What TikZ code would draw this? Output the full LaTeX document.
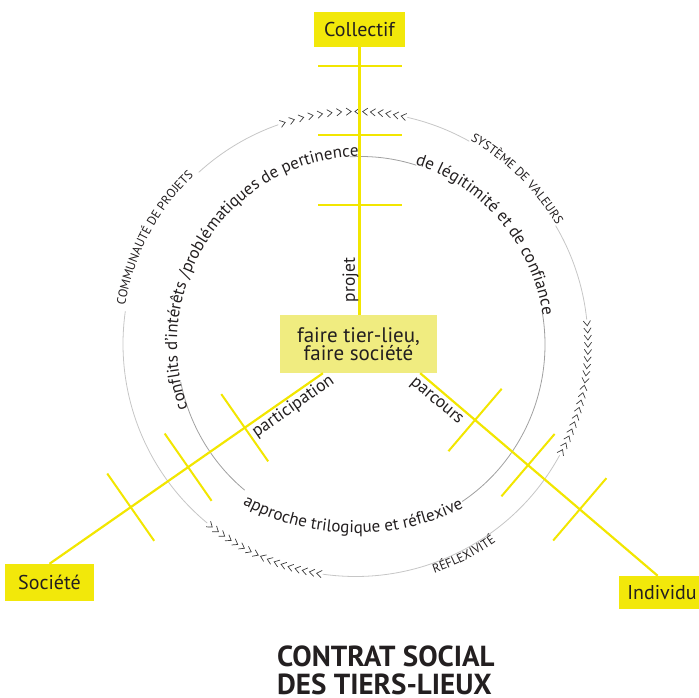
\documentclass[tikz,border=0pt]{standalone}
\usepackage{fontspec}
\setmainfont{PT Sans}
\usetikzlibrary{calc,decorations.text}
\definecolor{ylw}{RGB}{242,230,0}
\definecolor{ylwbox}{RGB}{242,232,10}
\definecolor{pale}{RGB}{240,236,128}
\definecolor{txt}{RGB}{35,31,32}
\definecolor{cinner}{RGB}{160,160,160}
\definecolor{couter}{RGB}{198,198,198}
\definecolor{chevc}{RGB}{60,60,60}
\newcommand\Rc{232.5}
\newcommand\chevgroup[5]{%
  \foreach \k in {1,...,#4}{%
    \pgfmathsetmacro\ang{#1-(\k-0.5)*(#1-#2)/#4}%
    \draw[chev, shift={(Co)}, rotate=\ang] (\Rc-3.6,2.5) -- (\Rc,-2.5) -- (\Rc+3.6,2.5);}%
  \foreach \k in {1,...,#5}{%
    \pgfmathsetmacro\ang{#2-(\k-0.5)*(#2-#3)/#5}%
    \draw[chev, shift={(Co)}, rotate=\ang] (\Rc-3.6,-2.5) -- (\Rc,2.5) -- (\Rc+3.6,-2.5);}}
\newcommand\spoketick[4]{%
  \path ($(#1)!#3!(#2)$) coordinate (tp);
  \draw[tick] ($(tp)!#4!90:(#2)$) -- ($(tp)!#4!-90:(#2)$);}
\begin{document}
\begin{tikzpicture}[x=1pt,y=1pt,
 spoke/.style={ylw, line width=2.2pt},
 tick/.style={ylw, line width=2pt},
 pole/.style={fill=ylwbox, text=txt, inner sep=0pt, font=\fontsize{20}{24}\selectfont},
 hubbox/.style={fill=pale, text=txt, inner sep=0pt, align=center, font=\fontsize{21}{18.5}\selectfont},
 lbl/.style={text=txt, inner sep=0pt, font=\fontsize{17.5}{20}\selectfont},
 title/.style={text=txt, inner sep=0pt, anchor=base west, font=\bfseries\fontsize{29}{30}\selectfont},
 outc/.style={couter, line width=0.8pt},
 innc/.style={cinner, line width=0.8pt},
 chev/.style={chevc, line width=0.7pt},
]
\useasboundingbox (0,0) rectangle (699,697);
\coordinate (Co) at (355.5,353);
\coordinate (Ci) at (361,352.5);
\coordinate (Ct) at (356,405.5);

% circles (broken where texts sit)
\foreach \a/\b in {109.4/132.4, 60.7/77.1, 6/30.6, -98.1/-28.6, -188.1/-129.6}
  \draw[outc] ($(Co)+(\a:\Rc)$) arc[start angle=\a, end angle=\b, radius=\Rc];
\foreach \a/\b in {72.5/93.5, -56.6/9.5, 191.6/230.8}
  \draw[innc] ($(Ci)+(\a:184 and 188)$) arc[start angle=\a, end angle=\b, x radius=184, y radius=188];

% chevrons
\chevgroup{109.4}{90.5}{77.1}{8}{7}
\chevgroup{6}{-9.9}{-28.6}{9}{10}
\chevgroup{-98.1}{-114.4}{-129.6}{9}{8}

% curved texts, inner ring
\path[decorate, decoration={text along path, text align=center, text color=txt,
  text={|\fontsize{17}{20}\selectfont|conflits d’intérêts /problématiques de pertinence}}]
  ($(Ci)+(205.2:184 and 188)$) arc[start angle=205.2, end angle=85.2, x radius=184, y radius=188];
\path[decorate, decoration={text along path, text align=center, text color=txt,
  text={|\fontsize{17}{20}\selectfont|de légitimité et de confiance}}]
  ($(Ci)+(91:184 and 188)$) arc[start angle=91, end angle=-9, x radius=184, y radius=188];
\path[decorate, decoration={text along path, text align=center, text color=txt,
  text={|\fontsize{17}{20}\selectfont|approche trilogique et réflexive}}]
  ($(Ct)+(-135.75:241.5)$) arc[start angle=-135.75, end angle=-45.75, radius=241.5];

% curved texts, outer ring
\path[decorate, decoration={text along path, text align=center, text color=txt,
  text={|\fontsize{12.5}{15}\selectfont|COMMUNAUTÉ DE PROJETS}}]
  ($(Co)+(197.2:233.5)$) arc[start angle=197.2, end angle=107.2, radius=233.5];
\path[decorate, decoration={text along path, text align=center, text color=txt,
  text={|\fontsize{12.5}{15}\selectfont|SYSTÈME DE VALEURS}}]
  ($(Co)+(90.6:233.5)$) arc[start angle=90.6, end angle=0.6, radius=233.5];
\path[decorate, decoration={text along path, text align=center, text color=txt,
  text={|\fontsize{12.5}{15}\selectfont|RÉFLEXIVITÉ}}]
  ($(Co)+(-97.8:242.5)$) arc[start angle=-97.8, end angle=-27.8, radius=242.5];

% boxes
\node[pole, minimum width=91pt, minimum height=35pt] (coll) at (359.5,667.5) {Collectif};
\node[pole, minimum width=89pt, minimum height=37pt] (soc) at (49.5,114.5) {Société};
\node[pole, minimum width=86pt, minimum height=33pt] (ind) at (662,104.5) {Individu};
\node[hubbox, minimum width=157pt, minimum height=58pt] (hub) at (358.5,353) {faire tier-lieu,\\faire société};

% spokes
\coordinate (vA) at (coll.south);
\coordinate (vB) at (coll.south |- hub.north);
\coordinate (lA) at ($(hub.south west)!0.274!(hub.south east)$);
\coordinate (lB) at (soc.north);
\coordinate (rA) at ($(hub.south west)!0.892!(hub.south east)$);
\coordinate (rB) at ($(ind.north west)!0.45!(ind.north east)$);
\draw[spoke] (vA) -- (vB);
\draw[spoke] (lA) -- (lB);
\draw[spoke] (rA) -- (rB);
\spoketick{vA}{vB}{0.071}{42pt}
\spoketick{vA}{vB}{0.328}{42pt}
\spoketick{vA}{vB}{0.59}{42pt}
\spoketick{lA}{lB}{0.286}{41pt}
\spoketick{lA}{lB}{0.493}{41pt}
\spoketick{lA}{lB}{0.703}{41pt}
\spoketick{rA}{rB}{0.231}{41pt}
\spoketick{rA}{rB}{0.454}{41pt}
\spoketick{rA}{rB}{0.672}{41pt}

% spoke labels
\node[lbl, rotate=90] (lproj) at (350.5,417) {projet};
\node[lbl, rotate=34.8] (lpart) at (293.3,290.3) {participation};
\node[lbl, rotate=-40.3] (lparc) at (436,295) {parcours};

% title
\node[title] (t1) at (277,30.5) {CONTRAT SOCIAL};
\node[title] (t2) at (277,2.5) {DES TIERS-LIEUX};
\end{tikzpicture}
\end{document}
